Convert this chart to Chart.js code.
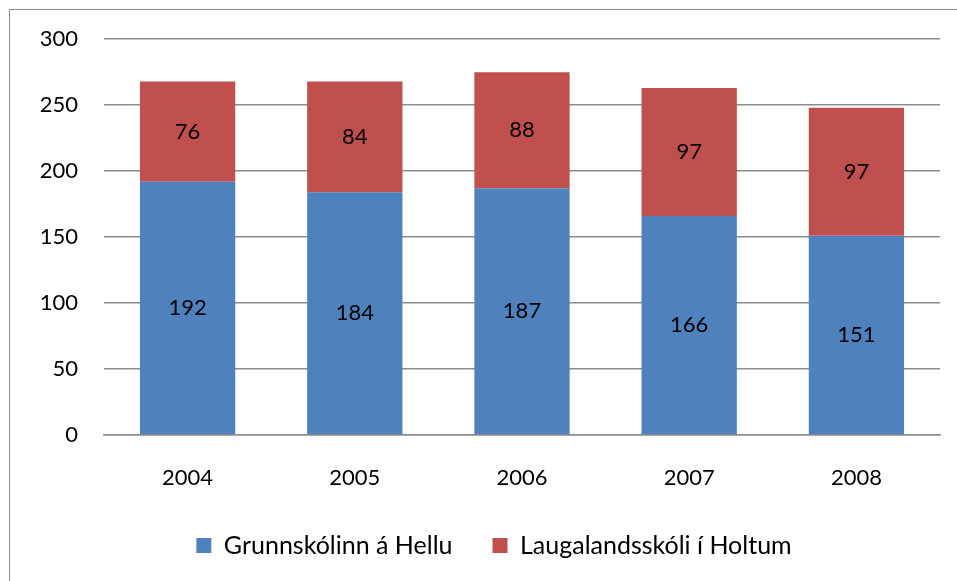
<!DOCTYPE html>
<html>
<head>
<meta charset="utf-8">
<script src="https://cdn.jsdelivr.net/npm/chart.js@4"></script>
<style>
    html, body { margin: 0; padding: 0; background: #fff; overflow: hidden; }
    #wrap { position: relative; width: 957px; height: 581px; }
    #frame { position: absolute; left: 9px; top: 9px; width: 960px; height: 600px; border: 1.5px solid #8c8c8c; box-sizing: border-box; }
    canvas { position: absolute; left: 0; top: 0; }
</style>
</head>
<body>
<div id="wrap">
    <div id="frame"></div>
    <canvas id="chart" width="957" height="581"></canvas>
</div>
<script>
const years = ["2004", "2005", "2006", "2007", "2008"];
const hellu = [192, 184, 187, 166, 151];
const holtum = [76, 84, 88, 97, 97];
const seriesNames = ["Grunnskólinn á Hellu", "Laugalandsskóli í Holtum"];

const FONT = "Lato, 'Open Sans', sans-serif";

// writes each value in the middle of its bar segment
const valueLabels = {
    id: "valueLabels",
    afterDatasetsDraw(chart) {
        const ctx = chart.ctx;
        ctx.save();
        ctx.font = "22px " + FONT;
        ctx.fillStyle = "#000";
        ctx.textAlign = "center";
        ctx.textBaseline = "middle";
        chart.data.datasets.forEach((ds, i) => {
            chart.getDatasetMeta(i).data.forEach((bar, j) => {
                const mid = (bar.y + bar.base) / 2;
                ctx.fillText(ds.data[j], bar.x, mid);
            });
        });
        ctx.restore();
    }
};

// legend in the original sits a bit right of the canvas centre
const nudgeLegend = {
    id: "nudgeLegend",
    afterLayout(chart) {
        chart.legend.left += 24;
        chart.legend.right += 24;
    }
};

const ctx = document.getElementById("chart").getContext("2d");
new Chart(ctx, {
    type: "bar",
    data: {
        labels: years,
        datasets: [
            { label: seriesNames[0], data: hellu, backgroundColor: "#4F81BD", borderWidth: 0 },
            { label: seriesNames[1], data: holtum, backgroundColor: "#C0504D", borderWidth: 0 }
        ]
    },
    options: {
        responsive: false,
        animation: false,
        devicePixelRatio: 1,
        layout: { padding: { left: 0, right: 17, top: 28, bottom: 13 } },
        datasets: { bar: { categoryPercentage: 0.57, barPercentage: 1 } },
        scales: {
            x: {
                stacked: true,
                afterFit(scale) { scale.height = 58; },
                grid: { display: false, drawTicks: false },
                border: { display: true, color: "#8c8c8c", width: 1.5 },
                ticks: { color: "#000", font: { family: FONT, size: 22 }, padding: 30 }
            },
            y: {
                stacked: true,
                min: 0,
                max: 300,
                afterFit(scale) { scale.width = 104; },
                grid: { color: "#8c8c8c", lineWidth: 1.5, drawTicks: false },
                border: { display: false },
                ticks: { stepSize: 50, color: "#000", font: { family: FONT, size: 22 }, padding: 26 }
            }
        },
        plugins: {
            legend: {
                position: "bottom",
                labels: {
                    color: "#000",
                    font: { family: FONT, size: 25 },
                    boxWidth: 15,
                    boxHeight: 15,
                    padding: 40
                }
            },
            tooltip: { enabled: false }
        }
    },
    plugins: [valueLabels, nudgeLegend]
});
</script>
</body>
</html>
